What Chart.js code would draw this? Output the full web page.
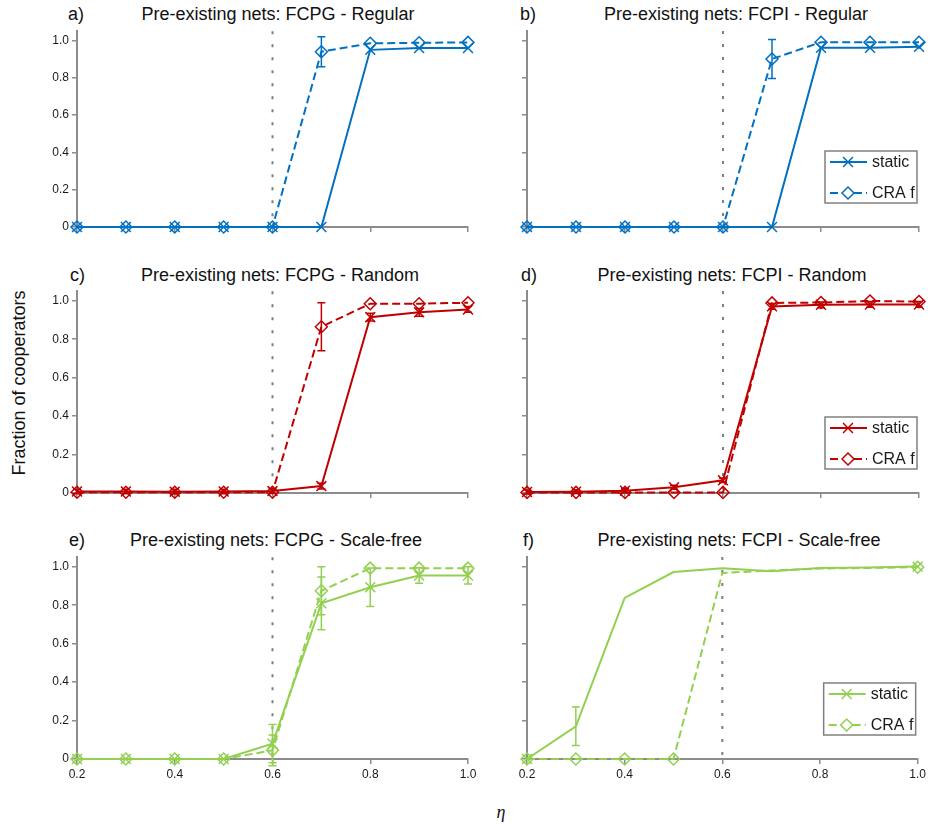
<!DOCTYPE html>
<html>
<head>
<meta charset="utf-8">
<title>Fraction of cooperators</title>
<script src="https://cdn.jsdelivr.net/npm/chart.js@4.4.0/dist/chart.umd.min.js"></script>
<style>
  body { margin: 0; background: #fff; width: 930px; height: 827px; position: relative; overflow: hidden;
         font-family: "Liberation Sans", Arial, sans-serif; color: #111; }
  canvas { position: absolute; }
  .txt { position: absolute; font-size: 18px; line-height: 1; white-space: nowrap; }
  .ttl { transform: translateX(-50%); }
</style>
</head>
<body>
<div class="txt" style="left:68px;top:5px">a)</div>
<div class="txt ttl" style="left:278px;top:5px">Pre-existing nets: FCPG - Regular</div>
<div class="txt" style="left:520px;top:5px">b)</div>
<div class="txt ttl" style="left:736px;top:5px">Pre-existing nets: FCPI - Regular</div>
<div class="txt" style="left:70px;top:266px">c)</div>
<div class="txt ttl" style="left:280px;top:266px">Pre-existing nets: FCPG - Random</div>
<div class="txt" style="left:521px;top:266px">d)</div>
<div class="txt ttl" style="left:732px;top:266px">Pre-existing nets: FCPI - Random</div>
<div class="txt" style="left:69px;top:531px">e)</div>
<div class="txt ttl" style="left:276px;top:531px">Pre-existing nets: FCPG - Scale-free</div>
<div class="txt" style="left:523px;top:531px">f)</div>
<div class="txt ttl" style="left:739px;top:531px">Pre-existing nets: FCPI - Scale-free</div>
<div class="txt" style="left:19px;top:383px;transform:translate(-50%,-50%) rotate(-90deg)">Fraction of cooperators</div>
<div class="txt" style="left:501px;top:812px;transform:translate(-50%,-50%);font-family:'Liberation Serif',serif;font-style:italic">η</div>

<script>
// x values (eta) and axis ticks
const eta = [0.2, 0.3, 0.4, 0.5, 0.6, 0.7, 0.8, 0.9, 1.0];
const xTicks = [0.2, 0.4, 0.6, 0.8, 1.0];
const yTicks = [0, 0.2, 0.4, 0.6, 0.8, 1.0];
const threshold = 0.6;
const seriesNames = ["static", "CRA f"];

// a) FCPG - Regular
const aStatic = [0, 0, 0, 0, 0, 0, 0.95, 0.96, 0.96];
const aStaticErr = [0, 0, 0, 0, 0, 0, 0, 0, 0];
const aCra = [0, 0, 0, 0, 0, 0.94, 0.985, 0.988, 0.99];
const aCraErr = [0, 0, 0, 0, 0, 0.08, 0, 0, 0];

// b) FCPI - Regular
const bStatic = [0, 0, 0, 0, 0, 0, 0.96, 0.96, 0.965];
const bStaticErr = [0, 0, 0, 0, 0, 0, 0, 0, 0];
const bCra = [0, 0, 0, 0, 0, 0.90, 0.99, 0.99, 0.99];
const bCraErr = [0, 0, 0, 0, 0, 0.105, 0, 0, 0];

// c) FCPG - Random
const cStatic = [0.008, 0.008, 0.007, 0.008, 0.01, 0.036, 0.915, 0.94, 0.955];
const cStaticErr = [0.012, 0.012, 0.012, 0.012, 0.012, 0.015, 0.02, 0.02, 0.015];
const cCra = [0.004, 0.004, 0.004, 0.004, 0.004, 0.865, 0.985, 0.985, 0.99];
const cCraErr = [0, 0, 0, 0, 0, 0.125, 0, 0, 0];

// d) FCPI - Random
const dStatic = [0.005, 0.007, 0.012, 0.03, 0.066, 0.97, 0.978, 0.98, 0.98];
const dStaticErr = [0.01, 0.01, 0.01, 0.01, 0.012, 0.015, 0.015, 0.015, 0.015];
const dCra = [0.003, 0.003, 0.003, 0.003, 0.003, 0.988, 0.99, 0.998, 0.995];
const dCraErr = [0, 0, 0, 0, 0, 0, 0, 0, 0];

// e) FCPG - Scale-free
const eStatic = [0, 0, 0, 0, 0.08, 0.81, 0.894, 0.955, 0.955];
const eStaticErr = [0, 0, 0, 0, 0.1, 0.137, 0.1, 0.04, 0.045];
const eCra = [0, 0, 0, 0, 0.045, 0.875, 0.993, 0.993, 0.993];
const eCraErr = [0, 0, 0, 0, 0.08, 0.125, 0, 0, 0];

// f) FCPI - Scale-free
const fStatic = [0, 0.17, 0.837, 0.972, 0.991, 0.976, 0.993, 0.995, 1.0];
const fStaticErr = [0, 0.1, 0, 0, 0, 0, 0, 0, 0];
const fCra = [0, 0, 0, 0, 0.967, 0.98, 0.99, 0.993, 0.997];
const fCraErr = [0, 0, 0, 0, 0, 0, 0, 0, 0];

const BLUE = "#0070C0", RED = "#C00000", GREEN = "#92D050";
const AXIS = "#8c8c8c", TEXT = "#1a1a1a";

// dotted vertical line at eta = 0.6
const thresholdLine = {
  id: "thresholdLine",
  beforeDatasetsDraw(chart) {
    const { ctx, chartArea: a, scales: { x } } = chart;
    const px = x.getPixelForValue(threshold);
    ctx.save();
    ctx.strokeStyle = "#7f7f7f";
    ctx.lineWidth = 2;
    ctx.setLineDash([3, 10]);
    ctx.beginPath();
    ctx.moveTo(px, a.top);
    ctx.lineTo(px, a.bottom);
    ctx.stroke();
    ctx.restore();
  }
};

// vertical error bars with caps
const errorBars = {
  id: "errorBars",
  afterDatasetsDraw(chart) {
    const { ctx, scales: { x, y } } = chart;
    chart.data.datasets.forEach(ds => {
      ctx.save();
      ctx.strokeStyle = ds.borderColor;
      ctx.lineWidth = 1.5;
      ds.data.forEach((pt, i) => {
        const e = ds.errors[i];
        if (!e) return;
        const px = x.getPixelForValue(pt.x);
        const top = y.getPixelForValue(pt.y + e);
        const bot = y.getPixelForValue(pt.y - e);
        ctx.beginPath();
        ctx.moveTo(px, top); ctx.lineTo(px, bot);
        ctx.moveTo(px - 4, top); ctx.lineTo(px + 4, top);
        ctx.moveTo(px - 4, bot); ctx.lineTo(px + 4, bot);
        ctx.stroke();
      });
      ctx.restore();
    });
  }
};

// boxed legend in the lower right of the plot
const boxLegend = {
  id: "boxLegend",
  afterDraw(chart, args, opts) {
    if (!opts.show) return;
    const { ctx, chartArea: a } = chart;
    const w = 92, h = 52;
    const bx = a.right - 2 - w, by = a.bottom - 24 - h;
    ctx.save();
    ctx.fillStyle = "#fff";
    ctx.fillRect(bx, by, w, h);
    ctx.strokeStyle = "#808080";
    ctx.lineWidth = 1.5;
    ctx.strokeRect(bx, by, w, h);
    chart.data.datasets.forEach((ds, i) => {
      const cy = by + 11 + i * 31;
      ctx.strokeStyle = ds.borderColor;
      ctx.lineWidth = 2;
      ctx.setLineDash(ds.borderDash || []);
      ctx.beginPath();
      ctx.moveTo(bx + 5, cy);
      ctx.lineTo(bx + 42, cy);
      ctx.stroke();
      ctx.setLineDash([]);
      ctx.fillStyle = "#fff";
      ctx.lineWidth = 1.5;
      Chart.helpers.drawPoint(ctx, { pointStyle: ds.pointStyle, radius: ds.markSize, borderWidth: 1.5, rotation: 0 }, bx + 23, cy);
      ctx.fillStyle = TEXT;
      ctx.font = '16px "Liberation Sans"';
      ctx.textBaseline = "middle";
      ctx.fillText(ds.label, bx + 47, cy + 1);
    });
    ctx.restore();
  }
};

const panels = [
  { x: 27,  y: 21,  h: 236, top: 10, xh: 30, color: BLUE,  stat: aStatic, statErr: aStaticErr, cra: aCra, craErr: aCraErr, yLabels: true },
  { x: 477, y: 21,  h: 236, top: 10, xh: 30, color: BLUE,  stat: bStatic, statErr: bStaticErr, cra: bCra, craErr: bCraErr, legend: true },
  { x: 27,  y: 281, h: 242, top: 10, xh: 30, color: RED,   stat: cStatic, statErr: cStaticErr, cra: cCra, craErr: cCraErr, yLabels: true },
  { x: 477, y: 281, h: 242, top: 10, xh: 30, color: RED,   stat: dStatic, statErr: dStaticErr, cra: dCra, craErr: dCraErr, legend: true },
  { x: 27,  y: 547, h: 252, top: 10, xh: 40, color: GREEN, stat: eStatic, statErr: eStaticErr, cra: eCra, craErr: eCraErr, labels: true, yLabels: true },
  { x: 477, y: 547, h: 252, top: 10, xh: 40, color: GREEN, stat: fStatic, statErr: fStaticErr, cra: fCra, craErr: fCraErr, labels: true,
    legend: true, statMarks: [0, 8], craMarks: [0, 1, 2, 3, 8] }
];

function radii(marks, r) {
  return marks ? eta.map((_, i) => (marks.includes(i) ? r : 0)) : r;
}

function axisCommon() {
  return {
    border: { color: AXIS, width: 2 },
    grid: { drawOnChartArea: false, color: AXIS, lineWidth: 1.5, tickLength: 5 }
  };
}

panels.forEach(p => {
  const cv = document.createElement("canvas");
  const w = p.x === 27 ? 453 : 452;
  cv.width = w;
  cv.height = p.h;
  cv.style.left = p.x + "px";
  cv.style.top = p.y + "px";
  document.body.appendChild(cv);

  const line = (name, vals, errs, style, size, dash, marks) => ({
    label: name,
    data: eta.map((x, i) => ({ x: x, y: vals[i] })),
    errors: errs,
    borderColor: p.color,
    borderWidth: 2,
    borderDash: dash,
    pointStyle: style,
    markSize: size,
    pointRadius: radii(marks, size),
    pointBorderColor: p.color,
    pointBackgroundColor: "rgba(0,0,0,0)",
    pointBorderWidth: 1.5,
    tension: 0,
    clip: false
  });

  new Chart(cv, {
    type: "line",
    data: {
      datasets: [
        line(seriesNames[0], p.stat, p.statErr, "crossRot", 7, [], p.statMarks),
        line(seriesNames[1], p.cra, p.craErr, "rectRot", 6, [8, 4], p.craMarks)
      ]
    },
    options: {
      responsive: false,
      animation: false,
      layout: { padding: { top: p.top, right: w === 453 ? 12 : 10, left: 0, bottom: 0 } },
      plugins: { legend: { display: false }, tooltip: { enabled: false }, boxLegend: { show: !!p.legend } },
      scales: {
        x: Object.assign(axisCommon(), {
          type: "linear", min: 0.2, max: 1.0,
          afterBuildTicks: s => { s.ticks = xTicks.map(v => ({ value: v })); },
          afterFit: s => { s.height = p.xh; },
          ticks: { display: !!p.labels, color: TEXT, padding: 3, maxRotation: 0,
                   font: { family: "Liberation Sans", size: 12 }, callback: v => v.toFixed(1) }
        }),
        y: Object.assign(axisCommon(), {
          type: "linear", min: 0, max: 1.05,
          afterBuildTicks: s => { s.ticks = yTicks.map(v => ({ value: v })); },
          afterFit: s => { s.width = 50; },
          ticks: { display: !!p.yLabels, color: TEXT, padding: 3, font: { family: "Liberation Sans", size: 12 },
                   callback: v => (v === 0 ? "0" : v.toFixed(1)) }
        })
      }
    },
    plugins: [thresholdLine, errorBars, boxLegend]
  });
});
</script>
</body>
</html>
